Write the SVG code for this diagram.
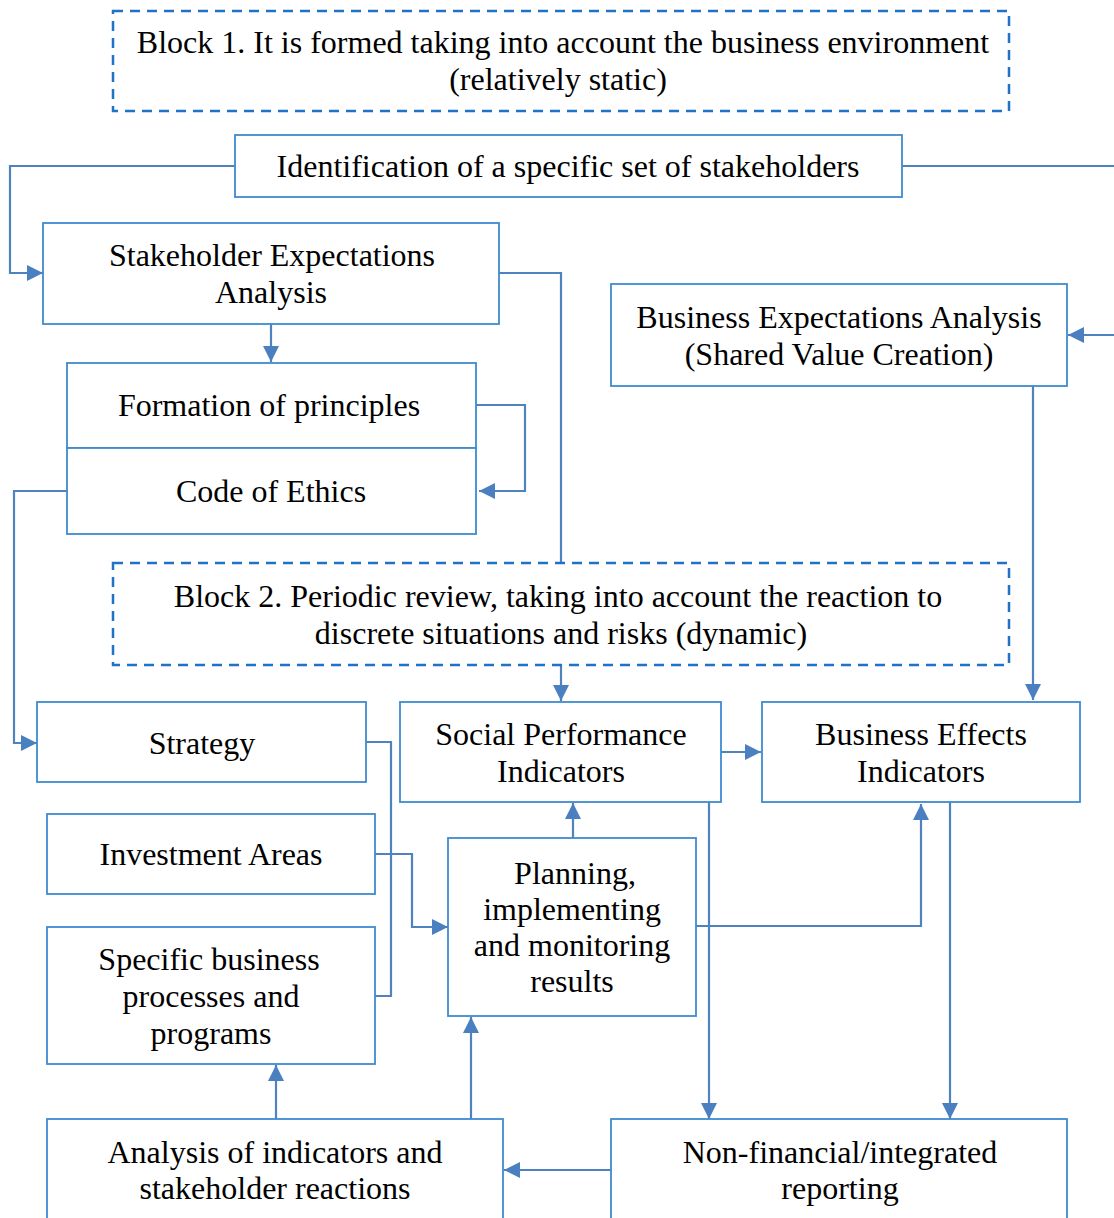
<svg xmlns="http://www.w3.org/2000/svg" width="1114" height="1218" viewBox="0 0 1114 1218">
<style>
.box{fill:#fff;stroke:#3f8bd0;stroke-width:1.8}
.dash{fill:#fff;stroke:#1f72c4;stroke-width:2.5;stroke-dasharray:10 7}
.t{font-family:"Liberation Serif","Times New Roman",serif;font-size:32px;fill:#000;text-anchor:middle}
.c{fill:none;stroke:#4f83c0;stroke-width:2.2}
</style>
<defs>
<marker id="a" markerUnits="userSpaceOnUse" markerWidth="18" markerHeight="16" refX="16" refY="8" orient="auto">
<path d="M0,0 L16,8 L0,16 Z" fill="#4a7fc0"/>
</marker>
</defs>
<g id="connectors">
<polyline class="c" points="235,166 10,166 10,273 43,273" marker-end="url(#a)"/>
<polyline class="c" points="902,166 1117,166 1117,335 1068,335" marker-end="url(#a)"/>
<polyline class="c" points="499,273 561,273 561,563"/>
<line class="c" x1="271" y1="324" x2="271" y2="362" marker-end="url(#a)"/>
<polyline class="c" points="476,405 525,405 525,491 479,491" marker-end="url(#a)"/>
<polyline class="c" points="67,491 14,491 14,743 37,743" marker-end="url(#a)"/>
<polyline class="c" points="1033,386 1033,700" marker-end="url(#a)"/>
<line class="c" x1="561" y1="665" x2="561" y2="701" marker-end="url(#a)"/>
<line class="c" x1="721" y1="752" x2="761" y2="752" marker-end="url(#a)"/>
<polyline class="c" points="366,742 391,742 391,996 375,996"/>
<polyline class="c" points="375,854 412,854 412,927 448,927" marker-end="url(#a)"/>
<line class="c" x1="573" y1="838" x2="573" y2="803" marker-end="url(#a)"/>
<polyline class="c" points="696,926 921,926 921,804" marker-end="url(#a)"/>
<line class="c" x1="709" y1="802" x2="709" y2="1119" marker-end="url(#a)"/>
<line class="c" x1="950" y1="802" x2="950" y2="1119" marker-end="url(#a)"/>
<line class="c" x1="611" y1="1170" x2="504" y2="1170" marker-end="url(#a)"/>
<line class="c" x1="276" y1="1119" x2="276" y2="1065" marker-end="url(#a)"/>
<line class="c" x1="471" y1="1119" x2="471" y2="1017" marker-end="url(#a)"/>
</g>
<g id="block1">
<rect class="dash" x="113" y="11" width="896" height="100"/>
<text class="t" x="563" y="53">Block 1. It is formed taking into account the business environment</text>
<text class="t" x="558" y="90">(relatively static)</text>
</g>
<g id="identification">
<rect class="box" x="235" y="135" width="667" height="62"/>
<text class="t" x="568" y="177">Identification of a specific set of stakeholders</text>
</g>
<g id="stakeholder-expectations">
<rect class="box" x="43" y="223" width="456" height="101"/>
<text class="t" x="272" y="266">Stakeholder Expectations</text>
<text class="t" x="271" y="303">Analysis</text>
</g>
<g id="business-expectations">
<rect class="box" x="611" y="284" width="456" height="102"/>
<text class="t" x="839" y="328">Business Expectations Analysis</text>
<text class="t" x="839" y="365">(Shared Value Creation)</text>
</g>
<g id="principles">
<rect class="box" x="67" y="363" width="409" height="85"/>
<text class="t" x="269" y="416">Formation of principles</text>
</g>
<g id="ethics">
<rect class="box" x="67" y="448" width="409" height="86"/>
<text class="t" x="271" y="502">Code of Ethics</text>
</g>
<g id="block2">
<rect class="dash" x="113" y="563" width="896" height="102"/>
<text class="t" x="558" y="607">Block 2. Periodic review, taking into account the reaction to</text>
<text class="t" x="561" y="644">discrete situations and risks (dynamic)</text>
</g>
<g id="strategy">
<rect class="box" x="37" y="702" width="329" height="80"/>
<text class="t" x="202" y="754">Strategy</text>
</g>
<g id="social-performance">
<rect class="box" x="400" y="702" width="321" height="100"/>
<text class="t" x="561" y="745">Social Performance</text>
<text class="t" x="561" y="782">Indicators</text>
</g>
<g id="business-effects">
<rect class="box" x="762" y="702" width="318" height="100"/>
<text class="t" x="921" y="745">Business Effects</text>
<text class="t" x="921" y="782">Indicators</text>
</g>
<g id="investment">
<rect class="box" x="47" y="814" width="328" height="80"/>
<text class="t" x="211" y="865">Investment Areas</text>
</g>
<g id="specific">
<rect class="box" x="47" y="927" width="328" height="137"/>
<text class="t" x="209" y="970">Specific business</text>
<text class="t" x="211" y="1007">processes and</text>
<text class="t" x="211" y="1044">programs</text>
</g>
<g id="planning">
<rect class="box" x="448" y="838" width="248" height="178"/>
<text class="t" x="575" y="884">Planning,</text>
<text class="t" x="572" y="920">implementing</text>
<text class="t" x="572" y="956">and monitoring</text>
<text class="t" x="572" y="992">results</text>
</g>
<g id="analysis">
<rect class="box" x="47" y="1119" width="456" height="110"/>
<text class="t" x="275" y="1163">Analysis of indicators and</text>
<text class="t" x="275" y="1199">stakeholder reactions</text>
</g>
<g id="reporting">
<rect class="box" x="611" y="1119" width="456" height="110"/>
<text class="t" x="840" y="1163">Non-financial/integrated</text>
<text class="t" x="840" y="1199">reporting</text>
</g>
</svg>
